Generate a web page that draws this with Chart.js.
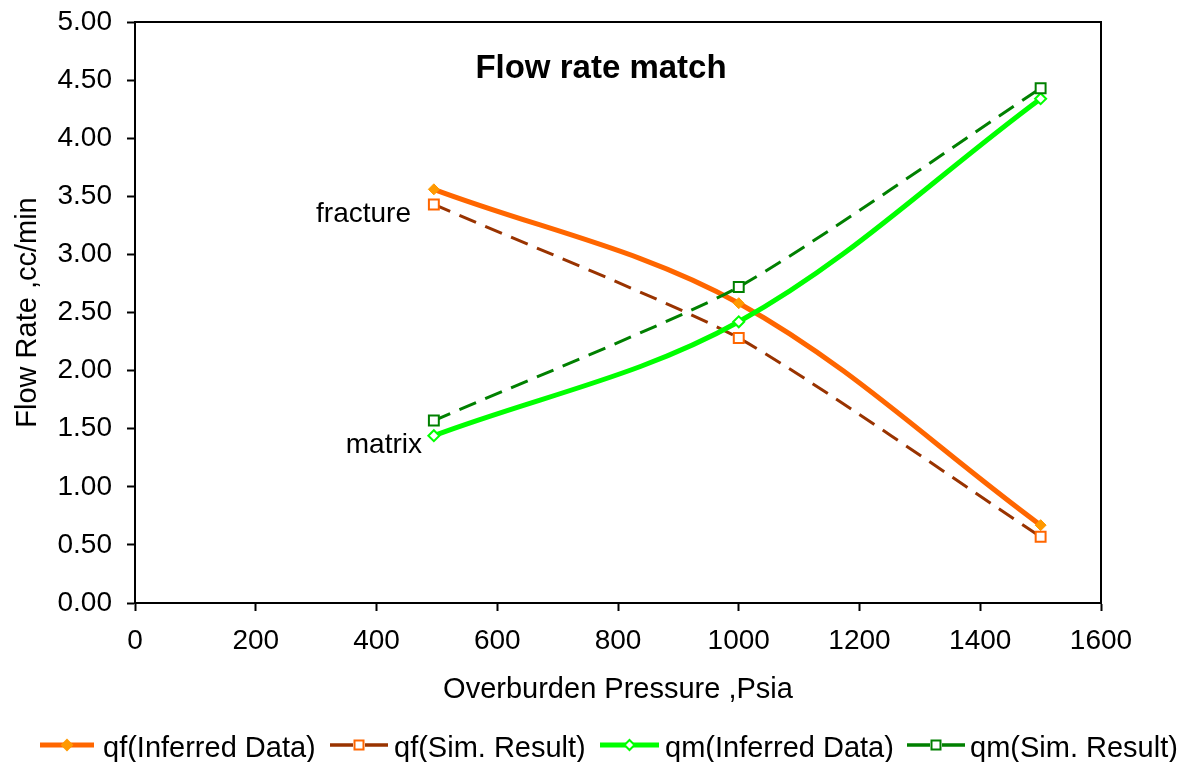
<!DOCTYPE html>
<html>
<head>
<meta charset="utf-8">
<script src="https://cdn.jsdelivr.net/npm/chart.js@4"></script>
<style>
  html, body { margin: 0; padding: 0; background: #fff; }
  #wrap { width: 1189px; height: 762px; }
</style>
</head>
<body>
<div id="wrap"><canvas id="c" width="1189" height="762"></canvas></div>
<script>
const pressure = [495, 1000, 1500];
const qfInferred = [3.56, 2.58, 0.67];
const qfSim = [3.43, 2.28, 0.57];
const qmInferred = [1.44, 2.42, 4.34];
const qmSim = [1.57, 2.72, 4.43];
const seriesNames = ['qf(Inferred Data)', 'qf(Sim. Result)', 'qm(Inferred Data)', 'qm(Sim. Result)'];
const chartTitle = 'Flow rate match';
const xTitle = 'Overburden Pressure ,Psia';
const yTitle = 'Flow Rate ,cc/min';

const FONT = '"Liberation Sans", Arial, sans-serif';
const toPts = ys => pressure.map((x, i) => ({x: x, y: ys[i]}));

const overlay = {
  id: 'overlay',
  afterDraw(chart) {
    const ctx = chart.ctx;
    const a = chart.chartArea;
    ctx.save();
    ctx.strokeStyle = '#000';
    ctx.lineWidth = 2;
    ctx.strokeRect(a.left, a.top, a.right - a.left, a.bottom - a.top);
    // title
    ctx.fillStyle = '#000';
    ctx.font = 'bold 33px ' + FONT;
    ctx.textAlign = 'center';
    ctx.textBaseline = 'alphabetic';
    ctx.fillText(chartTitle, 601, 78);
    // annotations
    ctx.font = '28px ' + FONT;
    ctx.textAlign = 'right';
    ctx.fillText('fracture', 411, 222);
    ctx.fillText('matrix', 422, 453);
    // legend
    const items = [
      {x0: 40, x1: 94, color: '#FF6600', w: 5, dash: false, shape: 'diamond', fill: '#FF9900', stroke: '#FF9900', tx: 103},
      {x0: 330, x1: 388, color: '#993300', w: 3.5, dash: true, shape: 'square', fill: '#fff', stroke: '#FF6600', tx: 394},
      {x0: 600, x1: 659, color: '#00FF00', w: 5, dash: false, shape: 'diamond', fill: '#fff', stroke: '#00FF00', tx: 665},
      {x0: 907, x1: 965, color: '#008000', w: 3.5, dash: true, shape: 'square', fill: '#fff', stroke: '#008000', tx: 970}
    ];
    const ly = 745;
    items.forEach((it, i) => {
      const cx = (it.x0 + it.x1) / 2;
      ctx.strokeStyle = it.color;
      ctx.lineWidth = it.w;
      ctx.setLineDash([]);
      ctx.beginPath();
      if (it.dash) {
        ctx.moveTo(it.x0, ly); ctx.lineTo(cx - 6, ly);
        ctx.moveTo(cx + 6, ly); ctx.lineTo(it.x1, ly);
      } else {
        ctx.moveTo(it.x0, ly); ctx.lineTo(it.x1, ly);
      }
      ctx.stroke();
      ctx.lineWidth = 2;
      ctx.fillStyle = it.fill;
      ctx.strokeStyle = it.stroke;
      ctx.beginPath();
      if (it.shape === 'diamond') {
        ctx.moveTo(cx, ly - 5); ctx.lineTo(cx + 5, ly); ctx.lineTo(cx, ly + 5); ctx.lineTo(cx - 5, ly); ctx.closePath();
      } else {
        ctx.rect(cx - 4.5, ly - 4.5, 9, 9);
      }
      ctx.fill(); ctx.stroke();
      ctx.fillStyle = '#000';
      ctx.font = '29px ' + FONT;
      ctx.textAlign = 'left';
      ctx.fillText(seriesNames[i], it.tx, 757);
    });
    ctx.restore();
  }
};

new Chart(document.getElementById('c'), {
  type: 'line',
  data: {
    datasets: [
      {label: seriesNames[0], data: toPts(qfInferred), borderColor: '#FF6600', borderWidth: 5,
       pointStyle: 'rectRot', pointRadius: 5.5, pointBackgroundColor: '#FF9900', pointBorderColor: '#FF9900', pointBorderWidth: 1,
       tension: 0.35, order: 3},
      {label: seriesNames[1], data: toPts(qfSim), borderColor: '#993300', borderWidth: 3, borderDash: [18, 10],
       pointStyle: 'rect', pointRadius: 7, pointBackgroundColor: '#fff', pointBorderColor: '#FF6600', pointBorderWidth: 2,
       tension: 0.2, order: 2},
      {label: seriesNames[2], data: toPts(qmInferred), borderColor: '#00FF00', borderWidth: 5,
       pointStyle: 'rectRot', pointRadius: 5.5, pointBackgroundColor: '#fff', pointBorderColor: '#00FF00', pointBorderWidth: 2,
       tension: 0.35, order: 1},
      {label: seriesNames[3], data: toPts(qmSim), borderColor: '#008000', borderWidth: 3, borderDash: [18, 10],
       pointStyle: 'rect', pointRadius: 7, pointBackgroundColor: '#fff', pointBorderColor: '#008000', pointBorderWidth: 2,
       tension: 0.2, order: 0}
    ]
  },
  options: {
    responsive: false,
    animation: false,
    devicePixelRatio: 1,
    layout: {padding: {left: 0, top: 22, right: 88, bottom: 55}},
    plugins: {legend: {display: false}, tooltip: {enabled: false}, title: {display: false}},
    scales: {
      x: {
        type: 'linear', min: 0, max: 1600,
        afterFit(s) { s.height = 104; s.paddingLeft = 0; s.paddingRight = 0; },
        ticks: {stepSize: 200, color: '#000', font: {family: FONT, size: 28}, padding: 13, maxRotation: 0,
                callback: v => String(v)},
        grid: {drawOnChartArea: false, tickLength: 8, tickWidth: 2, tickColor: '#000'},
        border: {display: true, color: '#000', width: 2},
        title: {display: true, text: xTitle, color: '#000', font: {family: FONT, size: 29}, padding: {top: 0, bottom: 0}}
      },
      y: {
        type: 'linear', min: 0, max: 5,
        afterFit(s) { s.width = 135; s.paddingTop = 0; s.paddingBottom = 0; },
        ticks: {stepSize: 0.5, color: '#000', font: {family: FONT, size: 28}, padding: 15,
                callback: v => Number(v).toFixed(2)},
        grid: {drawOnChartArea: false, tickLength: 8, tickWidth: 2, tickColor: '#000'},
        border: {display: true, color: '#000', width: 2},
        title: {display: true, text: yTitle, color: '#000', font: {family: FONT, size: 29}, padding: {top: 11, bottom: 0}}
      }
    }
  },
  plugins: [overlay]
});
</script>
</body>
</html>
